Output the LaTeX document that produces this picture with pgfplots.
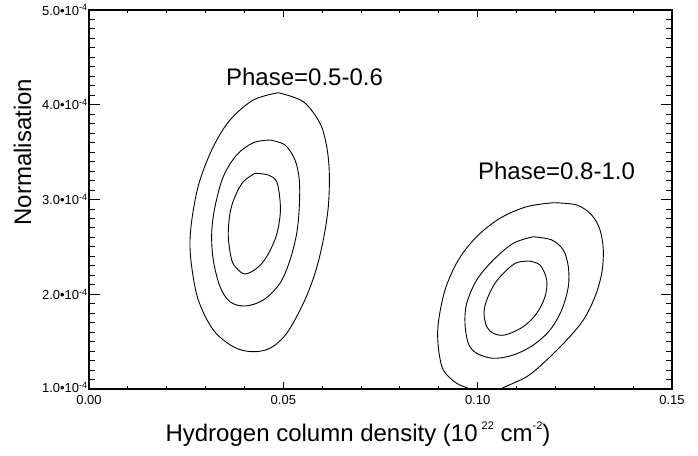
\documentclass[border=0pt]{standalone}
\usepackage{fontspec}
\setmainfont{Liberation Sans}
\usepackage{pgfplots}
\pgfplotsset{compat=1.18}

\newcommand{\lblfont}{\fontsize{24}{28}\selectfont}
\newcommand{\tckfont}{\fontsize{13}{15}\selectfont}
\newcommand{\smallsup}[1]{\raisebox{0.95ex}{\fontsize{11}{11}\selectfont #1}}

\begin{document}
\begin{tikzpicture}
\begin{axis}[
    at={(0pt,0pt)}, anchor=south west,
    scale only axis,
    width=583pt, height=379pt,
    xmin=0, xmax=0.15, ymin=1, ymax=5,
    scaled x ticks=false, scaled y ticks=false,
    xtick={0,0.05,0.1,0.15},
    xticklabels={0.00,0.05,0.10,0.15},
    minor x tick num=4,
    ytick={1,2,3,4,5},
    yticklabels={\raisebox{3pt}{1.0•10\textsuperscript{-4}},2.0•10\textsuperscript{-4},3.0•10\textsuperscript{-4},4.0•10\textsuperscript{-4},\raisebox{-5pt}{5.0•10\textsuperscript{-4}}},
    minor y tick num=9,
    tick align=inside,
    axis line style={line width=1.3pt},
    tick style={black, line width=0.9pt},
    major tick length=9pt, minor tick length=5pt,
    xtick style={/pgfplots/major tick length=7pt,/pgfplots/minor tick length=3.5pt},
    ytick style={/pgfplots/major tick length=11pt,/pgfplots/minor tick length=6pt},
    ticklabel style={font=\tckfont},
    xticklabel shift=3pt,
    yticklabel style={inner sep=1pt},
    xlabel={Hydrogen column density (10\,\smallsup{22} cm\smallsup{-2})},
    ylabel={Normalisation},
    every axis x label/.style={at={(axis description cs:0.4614,-0.1398)}, anchor=base, font=\lblfont},
    every axis y label/.style={at={(axis description cs:-0.114,0.625)}, anchor=center, rotate=90, font=\lblfont},
    no markers,
    cycle list={{black, solid}},
    every axis plot/.append style={smooth, tension=0.55, line width=0.9pt},
]
% phase 0.5-0.6, outer contour
\addplot coordinates {
 (0.04871,4.127) (0.05514,4.032) (0.05943,3.804) (0.06116,3.557) (0.06183,3.276)
 (0.06157,2.924) (0.06028,2.573) (0.05815,2.221) (0.05514,1.904) (0.05087,1.588)
 (0.04657,1.430) (0.04186,1.394) (0.03713,1.446) (0.03198,1.623) (0.02812,1.939)
 (0.02642,2.291) (0.02599,2.573) (0.02684,2.889) (0.02856,3.206) (0.03198,3.557)
 (0.03628,3.839) (0.04227,4.050) (0.04871,4.127)};
% phase 0.5-0.6, middle contour
\addplot coordinates {
 (0.04657,3.628) (0.05043,3.575) (0.05300,3.417) (0.05411,3.206) (0.05411,2.924)
 (0.05344,2.643) (0.05172,2.361) (0.04914,2.116) (0.04485,1.939) (0.04014,1.876)
 (0.03628,1.921) (0.03371,2.080) (0.03198,2.361) (0.03157,2.643) (0.03242,2.924)
 (0.03455,3.241) (0.03800,3.470) (0.04227,3.599) (0.04657,3.628)};
% phase 0.5-0.6, inner contour
\addplot coordinates {
 (0.04271,3.276) (0.04613,3.259) (0.04829,3.188) (0.04914,2.995) (0.04914,2.818)
 (0.04811,2.607) (0.04572,2.396) (0.04315,2.274) (0.04014,2.214) (0.03800,2.274)
 (0.03672,2.361) (0.03584,2.607) (0.03628,2.854) (0.03756,3.030) (0.03970,3.188)
 (0.04271,3.276)};
% phase 0.8-1.0, outer contour (runs below the axis)
\addplot coordinates {
 (0.11946,2.966) (0.12548,2.942) (0.12934,2.836) (0.13148,2.678) (0.13233,2.467)
 (0.13191,2.221) (0.13019,1.974) (0.12718,1.728) (0.12291,1.517) (0.11776,1.306)
 (0.11262,1.130) (0.10575,0.997) (0.10189,0.884) (0.09803,0.997) (0.09461,1.060)
 (0.09116,1.201) (0.08987,1.446) (0.08987,1.693) (0.09160,2.045) (0.09502,2.361)
 (0.09975,2.607) (0.10575,2.802) (0.11262,2.924) (0.11946,2.966)};
% phase 0.8-1.0, middle contour
\addplot coordinates {
 (0.11432,2.607) (0.11905,2.573) (0.12203,2.467) (0.12332,2.291) (0.12332,2.080)
 (0.12162,1.834) (0.11861,1.623) (0.11432,1.464) (0.10917,1.359) (0.10402,1.324)
 (0.09975,1.377) (0.09759,1.482) (0.09674,1.693) (0.09718,1.904) (0.09975,2.150)
 (0.10402,2.361) (0.10917,2.538) (0.11432,2.607)};
% phase 0.8-1.0, inner contour
\addplot coordinates {
 (0.11303,2.351) (0.11604,2.309) (0.11776,2.150) (0.11732,1.974) (0.11519,1.799)
 (0.11174,1.658) (0.10703,1.570) (0.10402,1.588) (0.10233,1.658) (0.10163,1.799)
 (0.10233,1.939) (0.10446,2.116) (0.10747,2.256) (0.11004,2.333) (0.11303,2.351)};
\node[font=\lblfont, anchor=base] at (axis cs:0.05545,4.208) {Phase=0.5-0.6};
\node[font=\lblfont, anchor=base] at (axis cs:0.12028,3.206) {Phase=0.8-1.0};
\end{axis}
\pgfresetboundingbox
\path[use as bounding box] (-89pt,-66pt) rectangle (609pt,389pt);
\end{tikzpicture}
\end{document}
